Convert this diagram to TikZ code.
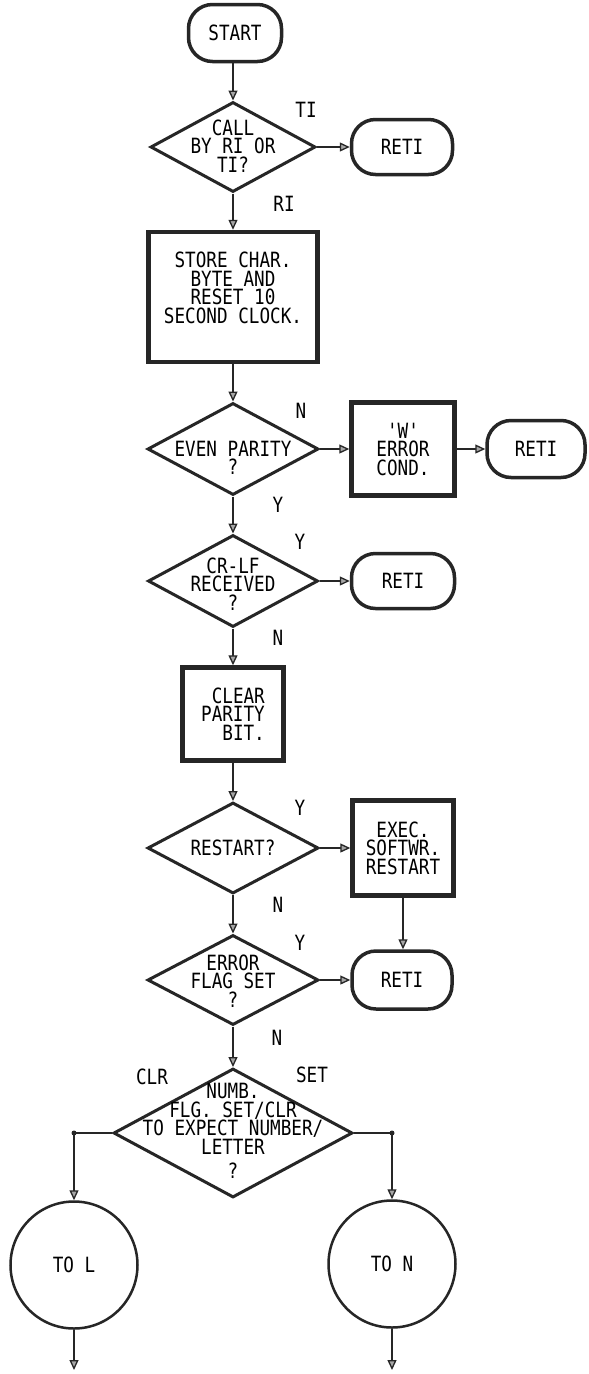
\documentclass[tikz,border=0pt]{standalone}
\usepackage{fontspec}
\setmonofont[FakeStretch=0.84]{DejaVu Sans Mono}
\usetikzlibrary{shapes.geometric,arrows.meta}
\begin{document}
\begin{tikzpicture}[x=1pt,y=-1pt,
  every node/.style={font=\ttfamily\fontsize{21}{18.5}\selectfont, text=black},
  term/.style={draw=black!85, line width=3.5pt, rounded corners=24pt, inner sep=0pt},
  procbox/.style={draw=black!85, line width=4.5pt, inner sep=0pt},
  dec/.style={draw=black!85, diamond, line width=3pt, inner sep=0pt, aspect=1},
  conn/.style={draw=black!85, circle, line width=2.5pt, inner sep=0pt, minimum size=127pt},
  txt/.style={align=center, inner sep=0pt},
  lbl/.style={inner sep=0pt},
  jdot/.style={circle, fill=black!85, inner sep=0pt, minimum size=5pt},
  arr/.style={draw=black!85, line width=1.5pt, -{Triangle[open, length=10pt, width=9pt, line width=1.3pt, fill=black!35]}},
  plain/.style={draw=black!85, line width=1.5pt}
]
\path[fill=white, use as bounding box] (0,0) rectangle (589,1374);

% terminals
\node[term, minimum width=93pt, minimum height=57pt] (start) at (235,33) {START};
\node[term, minimum width=101pt, minimum height=55pt] (r1) at (402,147) {RETI};
\node[term, minimum width=98pt, minimum height=57pt] (r3) at (536,449) {RETI};
\node[term, minimum width=103pt, minimum height=55pt] (r2) at (403,581) {RETI};
\node[term, minimum width=100pt, minimum height=58pt] (r4) at (402,980) {RETI};

% decisions
\node[dec, minimum width=165pt, minimum height=90pt] (d1) at (233,147) {};
\node[txt] (d1t) at (233,146) {CALL\\BY RI OR\\TI?};
\node[dec, minimum width=171pt, minimum height=92pt] (d2) at (233,449) {};
\node[txt] (d2t) at (233,458) {EVEN PARITY\\?};
\node[dec, minimum width=170pt, minimum height=92pt] (d3) at (233,581) {};
\node[txt] (d3t) at (233,584) {CR-LF\\RECEIVED\\?};
\node[dec, minimum width=171pt, minimum height=91pt] (d4) at (233,848) {};
\node[txt] (d4t) at (233,848) {RESTART?};
\node[dec, minimum width=171pt, minimum height=90pt] (d5) at (233,980) {};
\node[txt] (d5t) at (233,981) {ERROR\\FLAG SET\\?};
\node[dec, minimum width=239pt, minimum height=129pt] (d6) at (233,1133) {};
\node[txt] (d6t) at (233,1131) {NUMB.\\FLG. SET/CLR\\TO EXPECT NUMBER/\\LETTER\\[6pt]?};

% process boxes
\node[procbox, minimum width=169pt, minimum height=130pt] (store) at (233,297) {};
\node[txt] (storet) at (233,288) {STORE CHAR.\\BYTE AND\\RESET 10\\SECOND CLOCK.};
\node[procbox, minimum width=103pt, minimum height=93pt, align=center] (werr) at (403,449) {'W'\\ERROR\\COND.};
\node[procbox, minimum width=101pt, minimum height=93pt, align=left] (clear) at (233,714) {\hphantom{C}CLEAR\\PARITY\\\hphantom{CC}BIT.};
\node[procbox, minimum width=101pt, minimum height=95pt, align=center] (exec) at (403,848) {EXEC.\\SOFTWR.\\RESTART};

% connectors (circles)
\node[conn] (cl) at (74,1265) {TO L};
\node[conn] (cn) at (392,1264) {TO N};

% junctions and ends
\node[jdot] (jl) at (74,1133) {};
\node[jdot] (jn) at (392,1133) {};
\coordinate (endl) at (74,1370);
\coordinate (endn) at (392,1370);

% branch labels
\node[lbl] (lti) at (306,110) {TI};
\node[lbl] (lri) at (284,204) {RI};
\node[lbl] (ln2) at (301,411) {N};
\node[lbl] (ly2) at (278,505) {Y};
\node[lbl] (ly3) at (300,542) {Y};
\node[lbl] (ln3) at (278,638) {N};
\node[lbl] (ly4) at (300,808) {Y};
\node[lbl] (ln4) at (278,905) {N};
\node[lbl] (ly5) at (300,943) {Y};
\node[lbl] (ln5) at (277,1038) {N};
\node[lbl] (lclr) at (152,1077) {CLR};
\node[lbl] (lset) at (312,1075) {SET};

% flow
\draw[arr] (start.south -| d1.north) -- (d1.north);
\draw[arr] (d1.east) -- (r1.west);
\draw[arr] (d1.south) -- (store.north);
\draw[arr] (store.south) -- (d2.north);
\draw[arr] (d2.east) -- (werr.west);
\draw[arr] (werr.east) -- (r3.west);
\draw[arr] (d2.south) -- (d3.north);
\draw[arr] (d3.east) -- (r2.west);
\draw[arr] (d3.south) -- (clear.north);
\draw[arr] (clear.south) -- (d4.north);
\draw[arr] (d4.east) -- (exec.west);
\draw[arr] (exec.south) -- (exec.south |- r4.north);
\draw[arr] (d4.south) -- (d5.north);
\draw[arr] (d5.east) -- (r4.west);
\draw[arr] (d5.south) -- (d6.north);
\draw[plain] (d6.west) -- (jl.center);
\draw[arr] (jl.center) -- (cl.north);
\draw[plain] (d6.east) -- (jn.center);
\draw[arr] (jn.center) -- (cn.north);
\draw[arr] (cl.south) -- (endl);
\draw[arr] (cn.south) -- (endn);
\end{tikzpicture}
\end{document}
